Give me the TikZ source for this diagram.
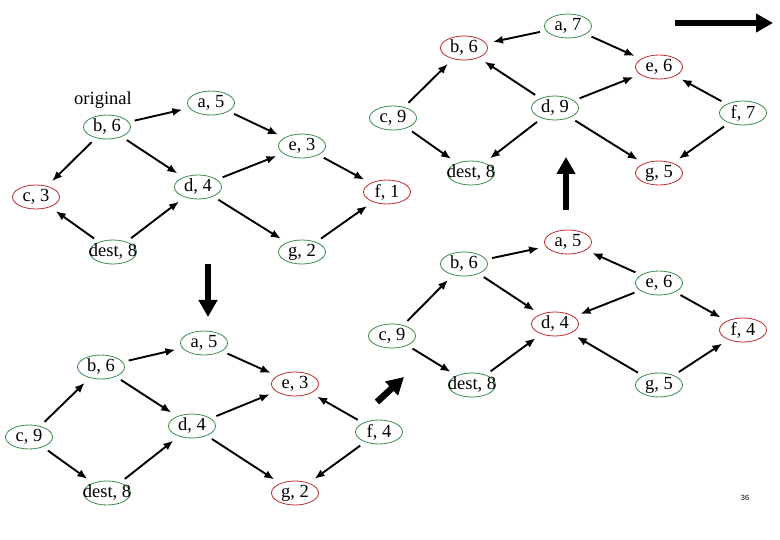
\documentclass[tikz,border=0pt]{standalone}
\usepackage{fontspec}
\setmainfont{Liberation Serif}
\newfontfamily\pagefont{Liberation Sans}
\usetikzlibrary{shapes.geometric,arrows.meta}
\definecolor{gcol}{RGB}{60,140,75}
\definecolor{rcol}{RGB}{190,45,45}
\newcommand\vtx[4]{\node[vnode,draw=#4] (#1) at (#2) {};\node[vtext] (#1-t) at (#1) {#3};}
\begin{document}
\begin{tikzpicture}[x=1pt,y=-1pt,
  vnode/.style={ellipse,minimum width=47pt,minimum height=24pt,inner sep=0pt,line width=0.8pt},
  vtext/.style={inner sep=0pt,font=\fontsize{18.5}{20}\selectfont},
  edge/.style={line width=1.9pt,-{Latex[length=10pt,width=8pt]},shorten <=6pt,shorten >=7pt},
  blockarrow/.style={line width=6.5pt,-{Triangle[length=17pt,width=18pt]}}]
\fill[white] (0,0) rectangle (780,540);
\useasboundingbox (0,0) rectangle (780,540);

% ---- graph A (top left)
\node[vtext] (orig) at (103,100) {original};
\vtx{Ab}{107,127}{b, 6}{gcol}
\vtx{Aa}{211,103}{a, 5}{gcol}
\vtx{Ae}{302,146}{e, 3}{gcol}
\vtx{Ad}{198,187}{d, 4}{gcol}
\vtx{Ac}{36,197}{c, 3}{rcol}
\vtx{Af}{387,192}{f, 1}{rcol}
\vtx{Adest}{113,252}{dest, 8}{gcol}
\vtx{Ag}{302,252}{g, 2}{gcol}
\draw[edge] (Ab) -- (Aa);
\draw[edge] (Ab) -- (Ac);
\draw[edge] (Ab) -- (Ad);
\draw[edge] (Aa) -- (Ae);
\draw[edge] (Ad) -- (Ae);
\draw[edge] (Ae) -- (Af);
\draw[edge] (Ad) -- (Ag);
\draw[edge] (Ag) -- (Af);
\draw[edge] (Adest) -- (Ac);
\draw[edge] (Adest) -- (Ad);

% ---- graph B (bottom left)
\vtx{Bb}{101,367}{b, 6}{gcol}
\vtx{Ba}{204,343}{a, 5}{gcol}
\vtx{Be}{295,384}{e, 3}{rcol}
\vtx{Bd}{192,426}{d, 4}{gcol}
\vtx{Bc}{29,437}{c, 9}{gcol}
\vtx{Bdest}{107,493}{dest, 8}{gcol}
\vtx{Bg}{295,493}{g, 2}{rcol}
\vtx{Bf}{379,432}{f, 4}{gcol}
\draw[edge] (Bc) -- (Bb);
\draw[edge] (Bc) -- (Bdest);
\draw[edge] (Bb) -- (Ba);
\draw[edge] (Bb) -- (Bd);
\draw[edge] (Ba) -- (Be);
\draw[edge] (Bd) -- (Be);
\draw[edge] (Bdest) -- (Bd);
\draw[edge] (Bd) -- (Bg);
\draw[edge] (Bf) -- (Be);
\draw[edge] (Bf) -- (Bg);

% ---- graph C (bottom right)
\vtx{Ca}{568,242}{a, 5}{rcol}
\vtx{Cb}{464,264}{b, 6}{gcol}
\vtx{Ce}{659,283}{e, 6}{gcol}
\vtx{Cd}{555,324}{d, 4}{rcol}
\vtx{Cc}{392,336}{c, 9}{gcol}
\vtx{Cf}{743,330}{f, 4}{rcol}
\vtx{Cdest}{472,385}{dest, 8}{gcol}
\vtx{Cg}{659,385}{g, 5}{gcol}
\draw[edge] (Cc) -- (Cb);
\draw[edge] (Cc) -- (Cdest);
\draw[edge] (Cb) -- (Ca);
\draw[edge] (Cb) -- (Cd);
\draw[edge] (Cdest) -- (Cd);
\draw[edge] (Ce) -- (Ca);
\draw[edge] (Ce) -- (Cd);
\draw[edge] (Ce) -- (Cf);
\draw[edge] (Cg) -- (Cd);
\draw[edge] (Cg) -- (Cf);

% ---- graph D (top right)
\vtx{Da}{568,26}{a, 7}{gcol}
\vtx{Db}{464,48}{b, 6}{rcol}
\vtx{De}{659,67}{e, 6}{rcol}
\vtx{Dd}{555,108}{d, 9}{gcol}
\vtx{Dc}{393,118}{c, 9}{gcol}
\vtx{Df}{743,113}{f, 7}{gcol}
\vtx{Ddest}{471,173}{dest, 8}{gcol}
\vtx{Dg}{659,173}{g, 5}{rcol}
\draw[edge] (Da) -- (Db);
\draw[edge] (Da) -- (De);
\draw[edge] (Dc) -- (Db);
\draw[edge] (Dc) -- (Ddest);
\draw[edge] (Dd) -- (Db);
\draw[edge] (Dd) -- (De);
\draw[edge] (Dd) -- (Ddest);
\draw[edge] (Dd) -- (Dg);
\draw[edge] (Df) -- (De);
\draw[edge] (Df) -- (Dg);

% ---- block arrows
\coordinate (downS) at (208,264);
\coordinate (downE) at (208,317);
\draw[blockarrow] (downS) -- (downE);
\coordinate (diagS) at (377,402);
\coordinate (diagE) at (404,377);
\draw[blockarrow] (diagS) -- (diagE);
\coordinate (upS) at (566,210);
\coordinate (upE) at (566,157);
\draw[blockarrow] (upS) -- (upE);
\coordinate (rightS) at (675,23);
\coordinate (rightE) at (773,23);
\draw[blockarrow] (rightS) -- (rightE);

% ---- page number
\node[inner sep=0pt,font=\pagefont\fontsize{7.5}{8}\selectfont] (pnum) at (745,498) {36};
\end{tikzpicture}
\end{document}
